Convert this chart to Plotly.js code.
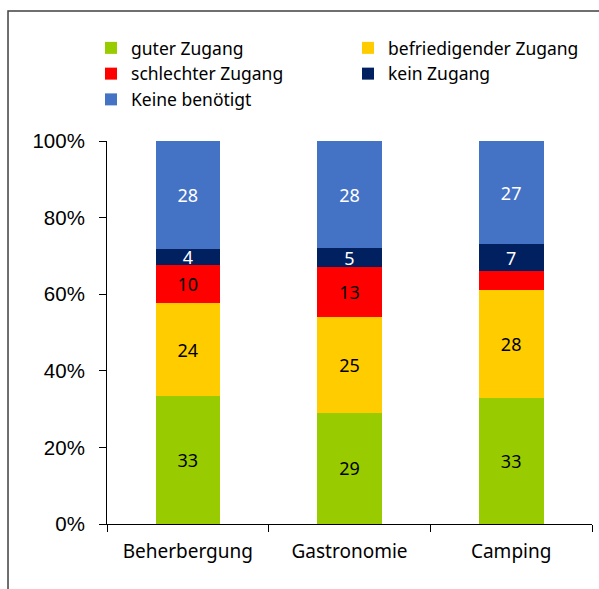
<!DOCTYPE html>
<html>
<head>
<meta charset="utf-8">
<script src="https://cdn.plot.ly/plotly-3.0.1.min.js"></script>
<style>html,body{margin:0;padding:0;background:#fff;}#chart{width:599px;height:589px;}</style>
</head>
<body>
<div id="chart"></div>
<script>
const categories = ["Beherbergung", "Gastronomie", "Camping"];
const seriesNames = ["guter Zugang", "befriedigender Zugang", "schlechter Zugang", "kein Zugang", "Keine benötigt"];
const gut = [33, 29, 33];
const befriedigend = [24, 25, 28];
const schlecht = [10, 13, 5];
const kein = [4, 5, 7];
const keineBenoetigt = [28, 28, 27];
const labelSchlecht = ["10", "13", ""];
const yTickVals = [0, 20, 40, 60, 80, 100];
const yTickText = ["0%", "20%", "40%", "60%", "80%", "100%"];

const colors = ["#99CC00", "#FFCC00", "#FF0000", "#002060", "#4472C4"];
const textColors = ["#000000", "#000000", "#000000", "#FFFFFF", "#FFFFFF"];
const values = [gut, befriedigend, schlecht, kein, keineBenoetigt];
const labels = [gut.map(String), befriedigend.map(String), labelSchlecht, kein.map(String), keineBenoetigt.map(String)];

const traces = values.map((v, i) => ({
  type: "bar",
  name: seriesNames[i],
  x: categories,
  y: v,
  text: labels[i],
  textposition: "inside",
  insidetextanchor: "middle",
  textangle: 0,
  constraintext: "none",
  textfont: {family: "Noto Sans, sans-serif", size: 18, color: textColors[i]},
  marker: {color: colors[i], line: {width: 0}},
  hoverinfo: "none"
}));

const layout = {
  width: 599, height: 589,
  margin: {l: 107, r: 7, t: 141, b: 65, autoexpand: false},
  paper_bgcolor: "#ffffff",
  plot_bgcolor: "#ffffff",
  barmode: "stack",
  barnorm: "percent",
  bargap: 0.6,
  showlegend: true,
  legend: {
    orientation: "h",
    x: -0.033, xanchor: "left",
    y: 1.2898, yanchor: "top",
    entrywidth: 212, entrywidthmode: "pixels",
    font: {family: "Noto Sans, sans-serif", size: 17.5, color: "#000"},
    traceorder: "normal",
    bgcolor: "rgba(0,0,0,0)"
  },
  uniformtext: {mode: "show", minsize: 18},
  xaxis: {
    type: "category",
    showline: true, linecolor: "#000", linewidth: 1,
    ticks: "outside", tickson: "boundaries", ticklen: 7, tickcolor: "#000",
    tickfont: {family: "Noto Sans, sans-serif", size: 19, color: "#000"},
    showgrid: false, zeroline: false,
    ticklabelstandoff: 10
  },
  yaxis: {
    range: [0, 100],
    tickvals: yTickVals, ticktext: yTickText,
    showline: true, linecolor: "#000", linewidth: 1,
    ticks: "outside", ticklen: 7, tickcolor: "#000",
    tickfont: {family: "Liberation Sans, Arial, sans-serif", size: 20.5, color: "#000"},
    showgrid: false, zeroline: false,
    ticklabelstandoff: 10
  },
  shapes: [{
    type: "path", xref: "paper", yref: "paper",
    path: "M -0.2041,-0.2 L -0.2041,1.3394 L 1.03,1.3394",
    line: {color: "#404040", width: 1.5}
  }]
};

Plotly.newPlot("chart", traces, layout, {displayModeBar: false, staticPlot: true});
</script>
</body>
</html>
